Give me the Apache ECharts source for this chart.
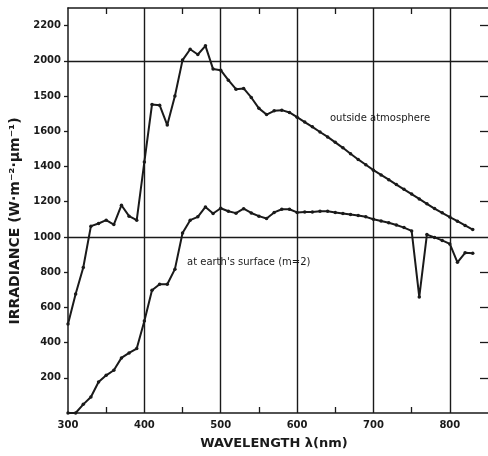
<!DOCTYPE html>
<html>
<head>
<meta charset="utf-8">
<script src="https://cdn.jsdelivr.net/npm/echarts@6/dist/echarts.min.js"></script>
<style>
html,body{margin:0;padding:0;background:#fff;}
#chart{width:488px;height:456px;}
</style>
</head>
<body>
<div id="chart"></div>
<script>
// ---- data ----
const wavelengths = [300,310,320,330,340,350,360,370,380,390,400,410,420,430,440,450,460,470,480,490,
  500,510,520,530,540,550,560,570,580,590,600,610,620,630,640,650,660,670,680,690,
  700,710,720,730,740,750,760,770,780,790,800,810,820,830];
const outsideAtmosphere = [505,676,826,1061,1076,1095,1070,1180,1118,1095,1426,1752,1748,1635,1800,2004,2066,2036,2085,1953,
  1947,1890,1839,1843,1792,1730,1695,1716,1720,1707,1680,1652,1625,1596,1568,1537,1506,1472,1440,1410,
  1379,1352,1325,1297,1270,1243,1216,1188,1161,1137,1113,1089,1065,1042];
const earthSurface = [0,0,49,91,176,214,243,313,341,366,523,697,731,731,817,1022,1095,1114,1170,1133,
  1163,1146,1135,1160,1136,1118,1105,1139,1157,1157,1139,1142,1142,1146,1146,1139,1133,1127,1122,1114,
  1100,1090,1080,1068,1053,1034,659,1013,997,980,960,856,910,907];
const xTickLabels = ['300','400','500','600','700','800'];
const xLabelValues = [300,400,500,600,700,800];
const xMinorTickValues = [350,450,550,650,750];
const yTickValues = [200,400,600,800,1000,1200,1400,1600,1800,2000,2200];
const yTickLabels = ['200','400','600','800','1000','1200','1400','1600','1500','2000','2200'];
const rightTickValues = [200,400,600,800,1200,1400,1600,1800,2200];
const verticalGrid = [400,500,600,700,800];
const horizontalGrid = [1000,2000];
const labelOutside = 'outside atmosphere';
const labelEarth = "at earth's surface (m=2)";
const xTitle = 'WAVELENGTH λ(nm)';
const yTitle = 'IRRADIANCE (W·m⁻²·μm⁻¹)';

// ---- chart ----
const INK = '#1a1a1a';
const FONT = 'DejaVu Sans';
const zip = (xs, ys) => xs.map((x, i) => [x, ys[i]]);

const chart = echarts.init(document.getElementById('chart'), null, {renderer: 'canvas'});
const gridMarks = verticalGrid.map(v => ({xAxis: v})).concat(horizontalGrid.map(v => ({yAxis: v})));

chart.setOption({
  animation: false,
  backgroundColor: '#fff',
  grid: {left: 68, top: 8, right: -5, bottom: 43, containLabel: false},
  xAxis: [
    {
      type: 'value', min: 300, max: 850, position: 'bottom',
      axisLine: {show: true, onZero: false, lineStyle: {color: INK, width: 1.5}},
      axisTick: {show: true, inside: true, length: 6, customValues: xMinorTickValues, lineStyle: {color: INK, width: 1.3}},
      axisLabel: {
        customValues: xLabelValues,
        formatter: v => xTickLabels[xLabelValues.indexOf(v)] || '',
        color: INK, fontFamily: FONT, fontWeight: 'bold', fontSize: 10, margin: 7
      },
      splitLine: {show: false},
      name: xTitle, nameLocation: 'middle', nameGap: 24,
      nameTextStyle: {color: INK, fontFamily: FONT, fontWeight: 'bold', fontSize: 13, padding: [0, 8, 0, 0]}
    },
    {
      type: 'value', min: 300, max: 850, position: 'top',
      axisLine: {show: true, onZero: false, lineStyle: {color: INK, width: 1.5}},
      axisTick: {show: true, inside: true, length: 6, customValues: xMinorTickValues, lineStyle: {color: INK, width: 1.3}},
      axisLabel: {show: false},
      splitLine: {show: false}
    }
  ],
  yAxis: [
    {
      type: 'value', min: 0, max: 2300, position: 'left',
      axisLine: {show: true, onZero: false, lineStyle: {color: INK, width: 1.5}},
      axisTick: {show: true, inside: false, length: 4, customValues: yTickValues, lineStyle: {color: INK, width: 1.3}},
      axisLabel: {
        customValues: yTickValues,
        formatter: v => yTickLabels[yTickValues.indexOf(v)] || '',
        color: INK, fontFamily: FONT, fontWeight: 'bold', fontSize: 10, margin: 7
      },
      splitLine: {show: false},
      name: yTitle, nameLocation: 'middle', nameRotate: 90, nameGap: 38,
      nameTextStyle: {color: INK, fontFamily: FONT, fontWeight: 'bold', fontSize: 14, padding: [0, 21, 0, 0]}
    },
    {
      type: 'value', min: 0, max: 2300, position: 'right',
      axisLine: {show: false},
      axisTick: {show: true, inside: true, length: 8, customValues: rightTickValues, lineStyle: {color: INK, width: 1.3}},
      axisLabel: {show: false},
      splitLine: {show: false}
    }
  ],
  series: [
    {
      name: labelOutside, type: 'line', xAxisIndex: 0, yAxisIndex: 0,
      data: zip(wavelengths, outsideAtmosphere),
      symbol: 'circle', symbolSize: 3.5, showSymbol: true,
      itemStyle: {color: INK}, lineStyle: {color: INK, width: 2},
      markLine: {
        silent: true, symbol: ['none', 'none'], label: {show: false},
        lineStyle: {type: 'solid', color: INK, width: 1.4},
        data: gridMarks
      }
    },
    {
      name: labelEarth, type: 'line', xAxisIndex: 0, yAxisIndex: 0,
      data: zip(wavelengths, earthSurface),
      symbol: 'circle', symbolSize: 3.5, showSymbol: true,
      itemStyle: {color: INK}, lineStyle: {color: INK, width: 2}
    }
  ],
  graphic: [
    {type: 'text', x: 330, y: 118, silent: true,
     style: {text: labelOutside, fill: INK, font: '10px "DejaVu Sans"', verticalAlign: 'middle'}},
    {type: 'text', x: 187, y: 262, silent: true,
     style: {text: labelEarth, fill: INK, font: '10px "DejaVu Sans"', verticalAlign: 'middle'}}
  ]
});
</script>
</body>
</html>
